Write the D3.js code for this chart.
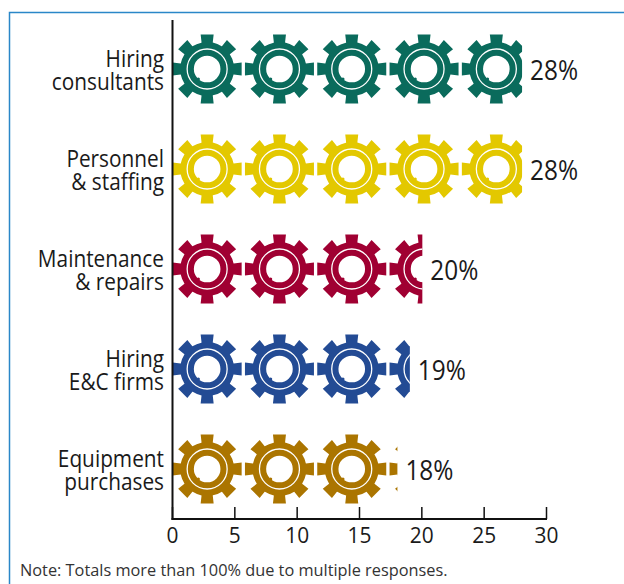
<!DOCTYPE html>
<html><head><meta charset="utf-8">
<script src="https://cdnjs.cloudflare.com/ajax/libs/d3/7.8.5/d3.min.js"></script>
<style>html,body{margin:0;padding:0;background:#fff}svg{display:block}text{font-family:"Open Sans",sans-serif;fill:#1a1a1a}</style>
</head><body><div id="c"></div>
<script>
const categories=[["Hiring","consultants"],["Personnel","& staffing"],["Maintenance","& repairs"],["Hiring","E&C firms"],["Equipment","purchases"]];
const values=[28,28,20,19,18];
const colors=["#0a6b5c","#e3c800","#a00032","#234b94","#ab7500"];
const ticks=[0,5,10,15,20,25,30];
const note="Note: Totals more than 100% due to multiple responses.";
const W=624,H=584;
const svg=d3.select("#c").append("svg").attr("width",W).attr("height",H);
svg.append("path").attr("d","M9.5,584V12.5H624").attr("fill","none").attr("stroke","#2a87c8").attr("stroke-width",1.5);
const x=d3.scaleLinear().domain([0,30]).range([172.5,546.5]);
const y=d3.scaleBand().domain(d3.range(5)).range([19,519]);
const unit=72.3/(x(1)-x(0));
function gearPath(){
  const p=d3.path(),n=8,Rb=27,Rt=34.5,hb=5.6,ht=6.5;
  for(let i=0;i<n;i++){
    const a=i*Math.PI/4-Math.PI/2,c=Math.cos(a),s=Math.sin(a);
    const pt=(r,t)=>[r*c-t*s,r*s+t*c];
    const o=[pt(Rb-.5,-hb),pt(Rt,-ht),pt(Rt,ht),pt(Rb-.5,hb)];
    if(i===0)p.moveTo(...o[0]);else p.lineTo(...o[0]);
    o.slice(1).forEach(v=>p.lineTo(...v));
    const a0=Math.atan2(o[3][1],o[3][0]);
    const a1=a0+Math.PI/4-2*Math.asin(hb/(Rb-.5));
    p.arc(0,0,Rb,a0,a1);
  }
  p.closePath();
  p.moveTo(13.3,0);p.arc(0,0,13.3,0,Math.PI*2,true);p.closePath();
  return p.toString();
}
const gp=gearPath();
const defs=svg.append("defs");
function squeezed(parent,tx,ty,sx,size,anchor,str){
  return parent.append("text").attr("transform",`translate(${tx},${ty}) scale(${sx},1)`)
    .attr("text-anchor",anchor).attr("font-size",size).text(str);
}
values.forEach((v,i)=>{
  defs.append("clipPath").attr("id","clip"+i).append("rect")
    .attr("x",x(0)).attr("y",y(i)).attr("width",x(v)-x(0)+.5).attr("height",y.bandwidth());
  const g=svg.append("g").attr("clip-path",`url(#clip${i})`);
  const cy=y(i)+y.bandwidth()/2;
  d3.range(Math.ceil(v/unit)).forEach(k=>{
    const cx=x(unit*(k+.5))-1.5;
    const t=g.append("g").attr("transform",`translate(${cx},${cy})`);
    t.append("path").attr("d",gp).attr("fill",colors[i]).attr("fill-rule","evenodd");
    t.append("circle").attr("cx",-8.8).attr("cy",10).attr("r",1.6).attr("fill",colors[i]);
    t.append("circle").attr("r",20).attr("fill","none").attr("stroke","#fff").attr("stroke-width",1.3);
  });
  squeezed(svg,x(v)+8.5,cy+10.5,.87,28,"start",v+"%");
  categories[i].forEach((s,j)=>squeezed(svg,164,cy-2+j*22.5,.85,24.5,"end",s));
});
const axis=svg.append("g");
axis.append("line").attr("x1",x(0)).attr("x2",x(0)).attr("y1",20).attr("y2",520).attr("stroke","#111").attr("stroke-width",2);
axis.append("line").attr("x1",x(0)-1).attr("x2",x(30)+.5).attr("y1",519).attr("y2",519).attr("stroke","#111").attr("stroke-width",2);
ticks.forEach(t=>{
  axis.append("line").attr("x1",x(t)).attr("x2",x(t)).attr("y1",507).attr("y2",519).attr("stroke","#111").attr("stroke-width",1.5);
  squeezed(axis,x(t),543,.93,22.5,"middle",t);
});
squeezed(svg,20,575.5,.96,17,"start",note).style("fill","#333");
</script></body></html>
